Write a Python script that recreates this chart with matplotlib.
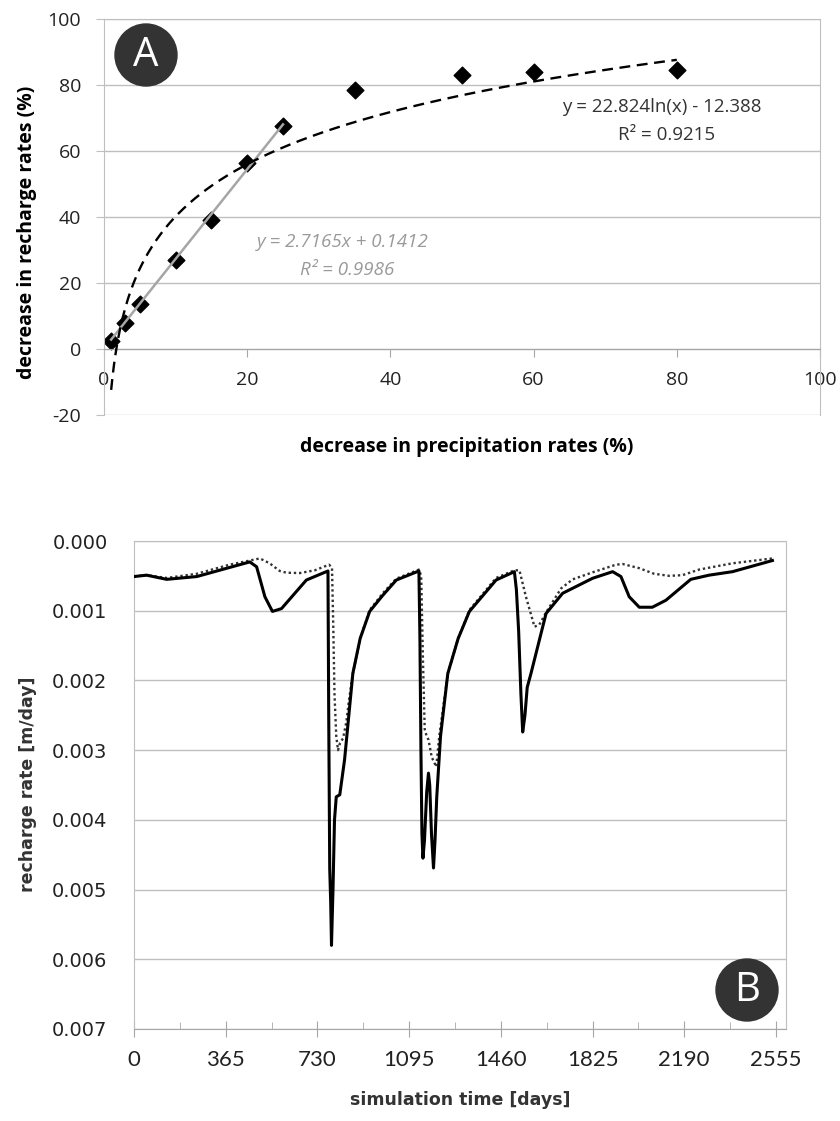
import matplotlib.pyplot as plt
import numpy as np
from matplotlib.patches import Ellipse
from matplotlib.ticker import MultipleLocator

plt.rcParams['axes.unicode_minus'] = False

# --- panel A: recharge decrease vs precipitation decrease ---
precip_decrease = [1, 3, 5, 10, 15, 20, 25, 35, 50, 60, 80]
recharge_decrease = [2.5, 8, 13.5, 27, 39, 56.5, 67.5, 78.5, 83, 84, 84.5]

# trendlines (linear over first 7 points, log over all)
lin_slope, lin_icpt, lin_r2 = 2.7165, 0.1412, 0.9986
log_coef, log_icpt, log_r2 = 22.824, -12.388, 0.9215

# --- panel B: simulated recharge rate ---
days_solid = [0, 50, 130, 250, 380, 461, 488, 521, 551, 587,
              686, 772, 775, 779, 783, 786, 792, 798, 805, 819,
              838, 871, 900, 938, 990, 1044, 1134, 1138, 1142, 1146,
              1150, 1156, 1165, 1172, 1177, 1184, 1192, 1198, 1205, 1220,
              1249, 1290, 1335, 1441, 1514, 1522, 1531, 1540, 1547, 1556,
              1565, 1580, 1640, 1706, 1825, 1905, 1938, 1971, 2011, 2063,
              2117, 2216, 2289, 2382, 2541]
rate_solid = [0.00051, 0.00049, 0.00055, 0.00051, 0.00038, 0.00030, 0.00037, 0.00080, 0.00101, 0.00097,
              0.00056, 0.00043, 0.0025, 0.0047, 0.0052, 0.0058, 0.0050, 0.0040, 0.00367, 0.00364,
              0.00314, 0.0019, 0.0014, 0.00101, 0.00078, 0.00056, 0.00043, 0.0014, 0.0030, 0.0042,
              0.00455, 0.0043, 0.0036, 0.00333, 0.0035, 0.0042, 0.00469, 0.0043, 0.00367, 0.0028,
              0.0019, 0.0014, 0.00101, 0.00056, 0.00044, 0.0007, 0.0013, 0.0022, 0.00274, 0.0025,
              0.0021, 0.0019, 0.00104, 0.00075, 0.000535, 0.00044, 0.00051, 0.0008, 0.00095, 0.00095,
              0.00085, 0.00055, 0.00049, 0.00044, 0.00028]

days_dotted = [0, 50, 130, 250, 380, 461, 501, 540, 580, 607,
               660, 720, 776, 788, 793, 798, 805, 812, 820, 832,
               845, 855, 871, 900, 938, 990, 1044, 1134, 1143, 1150,
               1157, 1165, 1172, 1185, 1203, 1215, 1249, 1290, 1335, 1441,
               1514, 1534, 1560, 1594, 1613, 1646, 1700, 1746, 1825, 1918,
               1945, 2011, 2070, 2130, 2183, 2249, 2382, 2541]
rate_dotted = [0.00051, 0.00049, 0.00053, 0.00047, 0.00034, 0.00028, 0.00025, 0.00032, 0.00043, 0.000455,
               0.00046, 0.00042, 0.00034, 0.00038, 0.0012, 0.0022, 0.0028, 0.0030, 0.0029, 0.00283,
               0.0026, 0.0023, 0.0019, 0.0014, 0.00099, 0.00075, 0.00054, 0.00041, 0.0005, 0.0017,
               0.0027, 0.0028, 0.00285, 0.0031, 0.00324, 0.0028, 0.0019, 0.0014, 0.00099, 0.00053,
               0.00042, 0.00042, 0.0008, 0.00123, 0.0012, 0.00099, 0.00068, 0.00055, 0.00045, 0.00034,
               0.00033, 0.00039, 0.00047, 0.0005, 0.00049, 0.00041, 0.00032, 0.00025]

W, H = 840, 1121
fig = plt.figure(figsize=(W / 100, H / 100), dpi=100)


def px_box(left, top, right, bottom):
    return [left / W, 1 - bottom / H, (right - left) / W, (bottom - top) / H]


grid_c = '#bfbfbf'
axis_c = '#a6a6a6'

# ---------------- panel A ----------------
axA = fig.add_axes(px_box(104, 19, 820, 415))
axA.scatter(precip_decrease, recharge_decrease, marker='D', s=72, color='k', zorder=2)

x_lin = np.array([precip_decrease[0], precip_decrease[6]])
axA.plot(x_lin, lin_slope * x_lin + lin_icpt, color='#a6a6a6', lw=1.8, zorder=3)
x_log = np.linspace(1, 80, 400)
axA.plot(x_log, log_coef * np.log(x_log) + log_icpt, color='k', lw=1.7,
         dashes=(4.6, 2.8), zorder=3)

axA.set_xlim(0, 100)
axA.set_ylim(-20, 100)
axA.xaxis.set_major_locator(MultipleLocator(20))
axA.yaxis.set_major_locator(MultipleLocator(20))
axA.grid(axis='y', color=grid_c, lw=1.0, zorder=0)
axA.set_axisbelow(True)
axA.spines['bottom'].set_position(('data', 0))
for s in axA.spines.values():
    s.set_color(grid_c)
axA.spines['bottom'].set_color(axis_c)
axA.tick_params(axis='x', direction='out', length=5.5, color=axis_c, pad=10)
axA.tick_params(axis='y', direction='out', length=5.5, color=grid_c, pad=11)
for lab in axA.get_xticklabels() + axA.get_yticklabels():
    lab.set_fontfamily('Open Sans')
    lab.set_fontsize(14)
    lab.set_color('#222222')

fig.text(27 / W, 1 - 232 / H, 'decrease in recharge rates (%)', rotation=90,
         ha='center', va='center', fontsize=14, fontweight='bold', family='Open Sans')
fig.text(467 / W, 1 - 447 / H, 'decrease in precipitation rates (%)',
         ha='center', va='center', fontsize=14, fontweight='bold', family='Open Sans')

fig.text(662 / W, 1 - 107 / H, 'y = %.3fln(x) - %.3f' % (log_coef, -log_icpt),
         ha='center', va='center', fontsize=13.5, family='Open Sans', color='#333333')
fig.text(667 / W, 1 - 135 / H, 'R² = %.4f' % log_r2,
         ha='center', va='center', fontsize=13.5, family='Open Sans', color='#333333')
fig.text(343 / W, 1 - 242 / H, 'y = %.4fx + %.4f' % (lin_slope, lin_icpt),
         ha='center', va='center', fontsize=13.5, family='Open Sans', style='italic',
         color='#9a9a9a')
fig.text(347 / W, 1 - 270 / H, 'R² = %.4f' % lin_r2,
         ha='center', va='center', fontsize=13.5, family='Open Sans', style='italic',
         color='#9a9a9a')

# ---------------- panel B ----------------
axB = fig.add_axes(px_box(134, 541, 786, 1029))
axB.plot(days_dotted, rate_dotted, color='#333333', lw=1.7, linestyle=(0, (1, 1.2)), zorder=3)
axB.plot(days_solid, rate_solid, color='k', lw=2.2, zorder=4)

axB.set_xlim(0, 2595)
axB.set_ylim(0.007, 0.0)
axB.xaxis.set_major_locator(MultipleLocator(365))
axB.xaxis.set_minor_locator(MultipleLocator(182.5))
axB.yaxis.set_major_locator(MultipleLocator(0.001))
axB.yaxis.set_major_formatter(plt.FormatStrFormatter('%.3f'))
axB.grid(axis='y', color=grid_c, lw=1.0, zorder=0)
axB.set_axisbelow(True)
for s in axB.spines.values():
    s.set_color(grid_c)
axB.spines['bottom'].set_color(axis_c)
axB.tick_params(axis='x', which='major', direction='inout', length=12, color=axis_c, pad=9)
axB.tick_params(axis='x', which='minor', direction='in', length=5, color=axis_c)
axB.tick_params(axis='y', length=0, pad=19)
for lab in axB.get_xticklabels():
    lab.set_fontfamily('Lato')
    lab.set_fontsize(16)
    lab.set_color('#222222')
for lab in axB.get_yticklabels():
    lab.set_fontfamily('DejaVu Sans')
    lab.set_fontsize(14)
    lab.set_color('#222222')

fig.text(28 / W, 1 - 784 / H, 'recharge rate [m/day]', rotation=90,
         ha='center', va='center', fontsize=12.5, fontweight='bold', family='DejaVu Sans',
         color='#333333')
fig.text(460 / W, 1 - 1100 / H, 'simulation time [days]',
         ha='center', va='center', fontsize=12.5, fontweight='bold', family='DejaVu Sans',
         color='#333333')

# panel badges
for cx, cy, letter in [(146, 55, 'A'), (747, 990, 'B')]:
    fig.add_artist(Ellipse((cx / W, 1 - cy / H), 62 / W, 62 / H,
                           transform=fig.transFigure, color='#333333', zorder=10))
    fig.text(cx / W, 1 - (cy + 1) / H, letter, ha='center', va='center', color='white',
             fontsize=29, family='Open Sans', zorder=11)

fig.savefig('out.png', dpi=100)
